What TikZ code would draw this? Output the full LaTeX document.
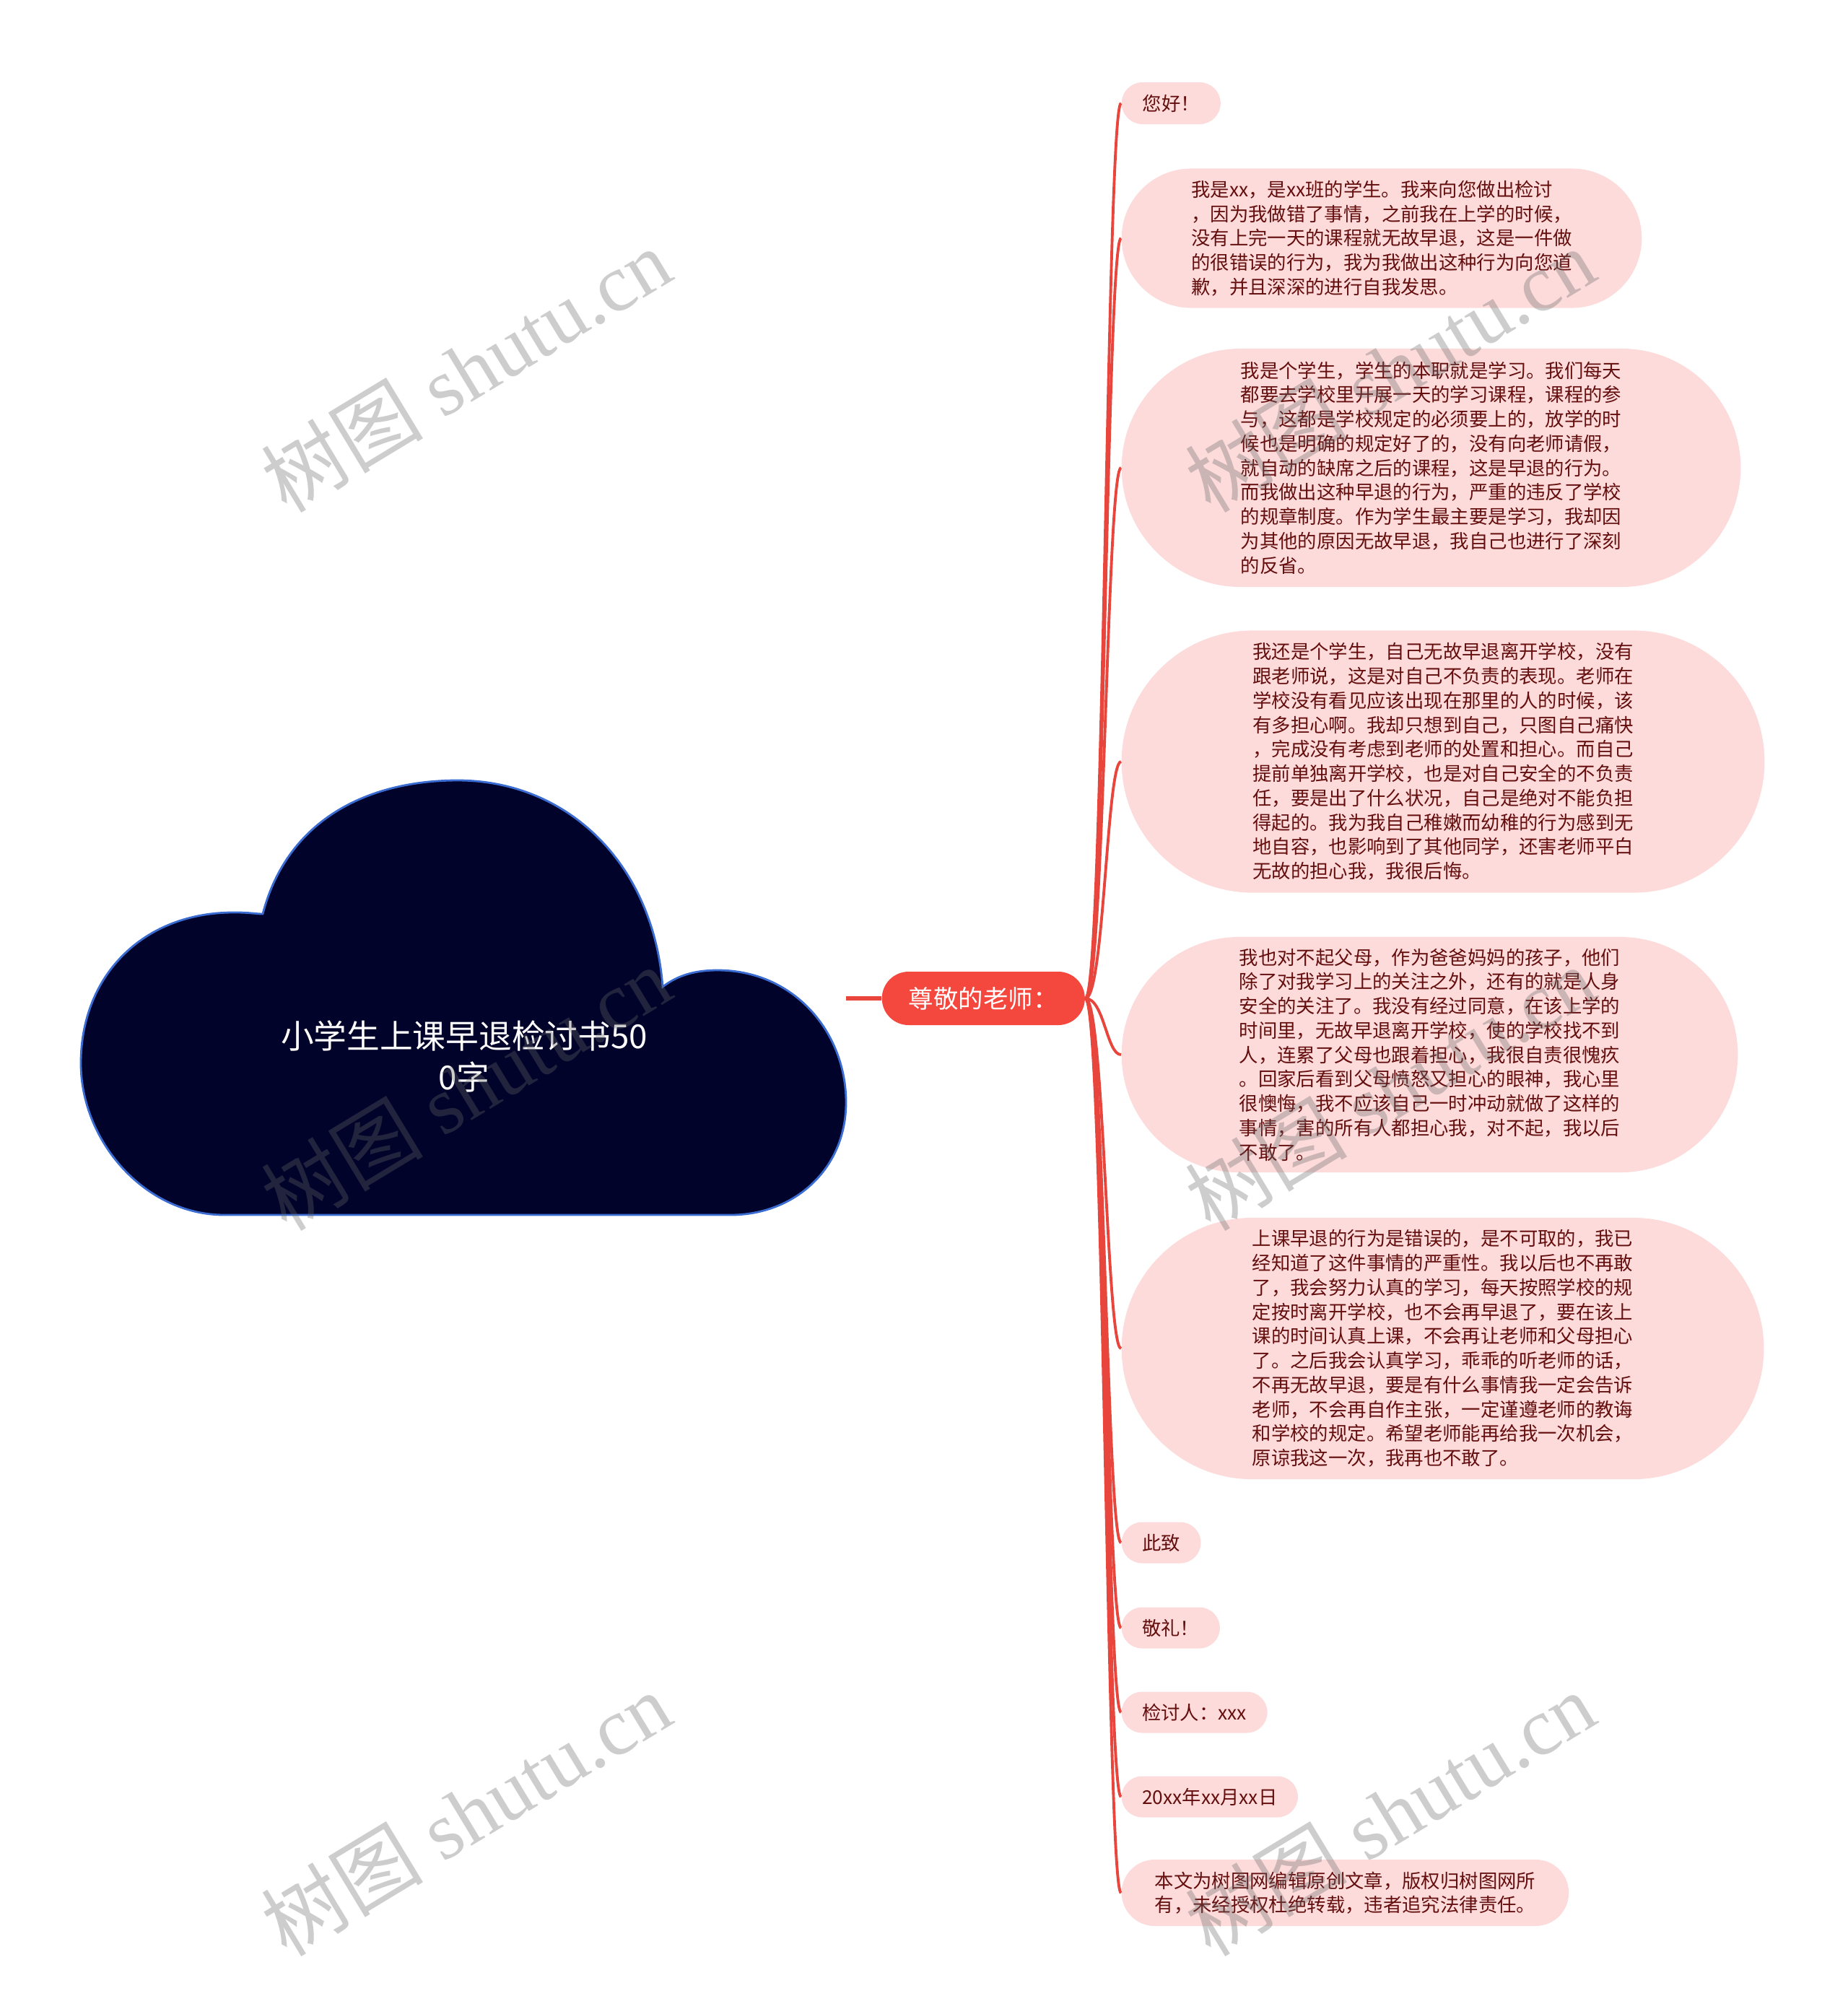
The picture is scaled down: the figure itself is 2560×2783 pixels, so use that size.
\documentclass[tikz,border=0pt]{standalone}
\usepackage{fontspec}
\newfontfamily\cjk{Noto Sans CJK SC}
\newfontfamily\wmlatin{Liberation Serif}
\definecolor{branchred}{RGB}{232,69,60}
\definecolor{leafpink}{RGB}{253,219,219}
\definecolor{leaftext}{RGB}{100,14,14}
\definecolor{rootred}{RGB}{244,71,62}
\definecolor{cloudnavy}{RGB}{2,3,42}
\definecolor{cloudedge}{RGB}{58,108,210}

\begin{document}
\begin{tikzpicture}[x=0.01cm,y=-0.01cm]
\tikzset{leaf/.style={rectangle,rounded corners=#1,inner xsep=#1,minimum height=2*#1,
  inner ysep=0pt,fill=leafpink,text=leaftext,anchor=west,
  font=\cjk\fontsize{7.5}{9.6}\selectfont,align=left}}
\tikzset{rootbox/.style={rectangle,rounded corners=0.37cm,minimum height=0.74cm,
  minimum width=2.81cm,fill=rootred,text=white,anchor=west,
  font=\cjk\fontsize{9.8}{12}\selectfont}}
\tikzset{branch/.style={draw=branchred,line width=1.1pt}}
\tikzset{watermark/.style={rotate=31.2,text=black!60,opacity=0.33,
  font=\wmlatin\fontsize{32}{32}\selectfont}}
\useasboundingbox (0,0) rectangle (2560,2783);

% cloud
\filldraw[fill=cloudnavy,draw=cloudedge,line width=0.8pt]
  (364,1266) .. controls (398,1135) and (510,1081) .. (634,1081)
  .. controls (785,1081) and (905,1195) .. (918,1367)
  .. controls (940,1350) and (965,1344) .. (994,1344)
  .. controls (1100,1344) and (1172,1430) .. (1172,1527)
  .. controls (1172,1620) and (1100,1683) .. (1012,1683)
  -- (311,1683)
  .. controls (200,1683) and (112,1580) .. (112,1473)
  .. controls (112,1350) and (200,1262) .. (328,1264)
  .. controls (345,1264) and (355,1266) .. (364,1266) -- cycle;
\node[text=white,align=center,font=\cjk\fontsize{13}{16.2}\selectfont] (title) at (643,1463)
  {小学生上课早退检讨书50\\0字};
\coordinate (cloudE) at (1172,1383);

\node[rootbox] (teacher) at (1221,1383) {尊敬的老师：};

\node[leaf=0.29cm] (hello) at (1553,143) {您好！};
\node[leaf=0.965cm] (apology) at (1553,330) {我是xx，是xx班的学生。我来向您做出检讨\\，因为我做错了事情，之前我在上学的时候，\\没有上完一天的课程就无故早退，这是一件做\\的很错误的行为，我为我做出这种行为向您道\\歉，并且深深的进行自我发思。};
\node[leaf=1.65cm] (duty) at (1553,648) {我是个学生，学生的本职就是学习。我们每天\\都要去学校里开展一天的学习课程，课程的参\\与，这都是学校规定的必须要上的，放学的时\\候也是明确的规定好了的，没有向老师请假，\\就自动的缺席之后的课程，这是早退的行为。\\而我做出这种早退的行为，严重的违反了学校\\的规章制度。作为学生最主要是学习，我却因\\为其他的原因无故早退，我自己也进行了深刻\\的反省。};
\node[leaf=1.815cm] (safety) at (1553,1055) {我还是个学生，自己无故早退离开学校，没有\\跟老师说，这是对自己不负责的表现。老师在\\学校没有看见应该出现在那里的人的时候，该\\有多担心啊。我却只想到自己，只图自己痛快\\，完成没有考虑到老师的处置和担心。而自己\\提前单独离开学校，也是对自己安全的不负责\\任，要是出了什么状况，自己是绝对不能负担\\得起的。我为我自己稚嫩而幼稚的行为感到无\\地自容，也影响到了其他同学，还害老师平白\\无故的担心我，我很后悔。};
\node[leaf=1.63cm] (parents) at (1553,1461) {我也对不起父母，作为爸爸妈妈的孩子，他们\\除了对我学习上的关注之外，还有的就是人身\\安全的关注了。我没有经过同意，在该上学的\\时间里，无故早退离开学校，使的学校找不到\\人，连累了父母也跟着担心，我很自责很愧疚\\。回家后看到父母愤怒又担心的眼神，我心里\\很懊悔，我不应该自己一时冲动就做了这样的\\事情，害的所有人都担心我，对不起，我以后\\不敢了。};
\node[leaf=1.81cm] (promise) at (1553,1868) {上课早退的行为是错误的，是不可取的，我已\\经知道了这件事情的严重性。我以后也不再敢\\了，我会努力认真的学习，每天按照学校的规\\定按时离开学校，也不会再早退了，要在该上\\课的时间认真上课，不会再让老师和父母担心\\了。之后我会认真学习，乖乖的听老师的话，\\不再无故早退，要是有什么事情我一定会告诉\\老师，不会再自作主张，一定谨遵老师的教诲\\和学校的规定。希望老师能再给我一次机会，\\原谅我这一次，我再也不敢了。};
\node[leaf=0.285cm] (closing) at (1553,2137) {此致};
\node[leaf=0.285cm] (regards) at (1553,2255) {敬礼！};
\node[leaf=0.285cm] (signer) at (1553,2372) {检讨人：xxx};
\node[leaf=0.285cm] (datenode) at (1553,2489) {20xx年xx月xx日};
\node[leaf=0.46cm] (notice) at (1553,2622) {本文为树图网编辑原创文章，版权归树图网所\\有，未经授权杜绝转载，违者追究法律责任。};

% connectors
\draw[branch,line width=1.8pt] (cloudE) -- (teacher.west);
\foreach \leafname in {hello,apology,duty,safety,parents,promise,closing,regards,signer,datenode,notice}
  \draw[branch] (teacher.east) .. controls +(26,0) and +(-20,0) .. (\leafname.west);

% watermarks
\foreach \wx in {645,1925}
  \foreach \wy in {512,1507,2512}
    \node[watermark] at (\wx,\wy) {{\cjk 树图} shutu.cn};
\end{tikzpicture}
\end{document}
